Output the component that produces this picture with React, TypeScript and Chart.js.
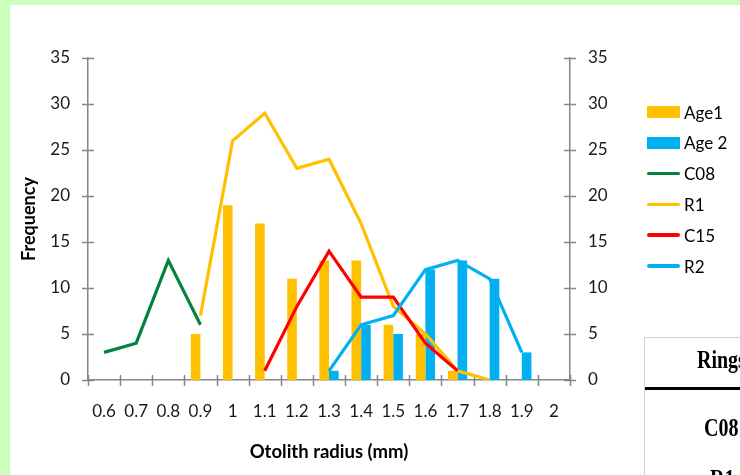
import React, { useEffect, useRef } from "react";
import { Chart, registerables } from "chart.js";

Chart.register(...registerables);

const categories = ["0.6", "0.7", "0.8", "0.9", "1", "1.1", "1.2", "1.3", "1.4", "1.5", "1.6", "1.7", "1.8", "1.9", "2"];
const age1 = [0, 0, 0, 5, 19, 17, 11, 13, 13, 6, 5, 1, 0, 0, 0];
const age2 = [0, 0, 0, 0, 0, 0, 0, 1, 6, 5, 12, 13, 11, 3, 0];
const c08 = [3, 4, 13, 6, null, null, null, null, null, null, null, null, null, null, null];
const r1 = [null, null, null, 7, 26, 29, 23, 24, 17, 8, 5, 1, 0, null, null];
const c15 = [null, null, null, null, null, 1, 8, 14, 9, 9, 4, 1, null, null, null];
const r2 = [null, null, null, null, null, null, null, 1, 6, 7, 12, 13, 11, 3, null];
const yTicks = [0, 5, 10, 15, 20, 25, 30, 35];

const YELLOW = "#FFC000";
const BLUE = "#00B0F0";
const GREEN = "#00843D";
const RED = "#FF0000";
const AXIS = "#868686";

const legendItems = [
  { label: "Age1", color: YELLOW, kind: "bar" },
  { label: "Age 2", color: BLUE, kind: "bar" },
  { label: "C08", color: GREEN, kind: "line" },
  { label: "R1", color: YELLOW, kind: "line" },
  { label: "C15", color: RED, kind: "line" },
  { label: "R2", color: BLUE, kind: "line" },
];

const crossTicks = {
  id: "crossTicks",
  beforeDatasetsDraw(chart: any) {
    const ctx = chart.ctx;
    ctx.save();
    ctx.strokeStyle = AXIS;
    ctx.lineWidth = 1.5;
    const xs = chart.scales.x;
    const n = categories.length;
    for (let i = 0; i <= n; i++) {
      const px = Math.round(xs.getPixelForValue(i - 0.5)) + 0.5;
      ctx.beginPath();
      ctx.moveTo(px, xs.top - 5);
      ctx.lineTo(px, xs.top + 6);
      ctx.stroke();
    }
    ["y", "y1"].forEach((id) => {
      const s = chart.scales[id];
      const ax = id === "y" ? s.right : s.left;
      yTicks.forEach((v) => {
        const py = Math.round(s.getPixelForValue(v)) + 0.5;
        ctx.beginPath();
        ctx.moveTo(ax - 6, py);
        ctx.lineTo(ax + 6, py);
        ctx.stroke();
      });
    });
    ctx.restore();
  },
};

const serif: React.CSSProperties = {
  position: "absolute",
  fontFamily: "Liberation Serif",
  fontWeight: "bold",
  fontSize: 25,
  lineHeight: "25px",
  color: "#000",
  transform: "scaleX(0.8)",
  transformOrigin: "left",
  whiteSpace: "nowrap",
};

export default function App() {
  const ref = useRef<HTMLCanvasElement | null>(null);

  useEffect(() => {
    if (!ref.current) return;
    Chart.defaults.font.family = "Lato";
    const lineDs = (label: string, data: any[], color: string, order: number) => ({
      type: "line" as const,
      label,
      data,
      borderColor: color,
      backgroundColor: color,
      borderWidth: 3.2,
      pointRadius: 0,
      tension: 0,
      spanGaps: false,
      order,
      yAxisID: "y",
    });
    const chart = new Chart(ref.current, {
      type: "bar",
      data: {
        labels: categories,
        datasets: [
          { type: "bar", label: "Age1", data: age1, backgroundColor: YELLOW, order: 5, categoryPercentage: 0.6, barPercentage: 1, yAxisID: "y" },
          { type: "bar", label: "Age 2", data: age2, backgroundColor: BLUE, order: 6, categoryPercentage: 0.6, barPercentage: 1, yAxisID: "y" },
          lineDs("C08", c08, GREEN, 4),
          lineDs("R1", r1, YELLOW, 3),
          lineDs("C15", c15, RED, 2),
          lineDs("R2", r2, BLUE, 1),
        ] as any,
      },
      options: {
        responsive: false,
        animation: false,
        devicePixelRatio: 1,
        layout: { padding: { left: 10, right: 130, top: 58, bottom: 0 } },
        plugins: { legend: { display: false }, tooltip: { enabled: false } },
        scales: {
          x: {
            offset: true,
            grid: { display: false, drawTicks: false },
            border: { display: true, color: AXIS, width: 1.5 },
            ticks: { color: "#1a1a1a", font: { size: 17 }, padding: 21, maxRotation: 0, autoSkip: false },
            title: { display: true, text: "Otolith radius (mm)", color: "#000", font: { size: 18.5, weight: "bold" }, padding: { top: 0, bottom: 12 } },
            afterFit: (s: any) => { s.height = 95; },
          },
          y: {
            position: "left",
            min: 0,
            max: 35,
            grid: { display: false, drawTicks: false },
            border: { display: true, color: AXIS, width: 1.5 },
            ticks: { stepSize: 5, color: "#1a1a1a", font: { size: 17 }, padding: 18 },
            title: { display: true, text: "Frequency", color: "#000", font: { size: 18, weight: "bold" }, padding: { top: 8, bottom: 0 } },
            afterFit: (s: any) => { s.width = 78; },
          },
          y1: {
            position: "right",
            min: 0,
            max: 35,
            grid: { display: false, drawTicks: false },
            border: { display: true, color: AXIS, width: 1.5 },
            ticks: { stepSize: 5, color: "#1a1a1a", font: { size: 17 }, padding: 18 },
            afterFit: (s: any) => { s.width = 40; },
          },
        },
      } as any,
      plugins: [crossTicks],
    });
    return () => chart.destroy();
  }, []);

  return (
    <div style={{ position: "fixed", left: 0, top: 0, width: 740, height: 475, background: "#ccffbb", overflow: "hidden" }}>
      <div style={{ position: "absolute", left: 10, top: 5, width: 730, height: 470, background: "#fff" }} />
      <canvas ref={ref} width={740} height={475} style={{ position: "absolute", left: 0, top: 0, width: 740, height: 475 }} />
      {legendItems.map((it, i) => (
        <div key={it.label} style={{ position: "absolute", left: 647, top: 112 + i * 30.8 - 10, height: 20, display: "flex", alignItems: "center", fontFamily: "Lato", fontSize: 17, color: "#000" }}>
          <span
            style={{
              display: "inline-block",
              width: 33,
              height: it.kind === "bar" ? 12 : 3.5,
              background: it.color,
              borderRadius: it.kind === "bar" ? 0 : 2,
              marginRight: 4,
            }}
          />
          <span>{it.label}</span>
        </div>
      ))}
      <div style={{ position: "absolute", left: 644, top: 337, width: 120, height: 160, border: "1px solid #c9d3e3", background: "#fff", overflow: "hidden" }}>
        <div style={{ ...serif, left: 52, top: 9 }}>Rings</div>
        <div style={{ position: "absolute", left: 0, top: 49, width: 120, height: 3, background: "#000" }} />
        <div style={{ ...serif, left: 59, top: 77 }}>C08</div>
        <div style={{ ...serif, left: 65, top: 128 }}>R1</div>
      </div>
    </div>
  );
}
